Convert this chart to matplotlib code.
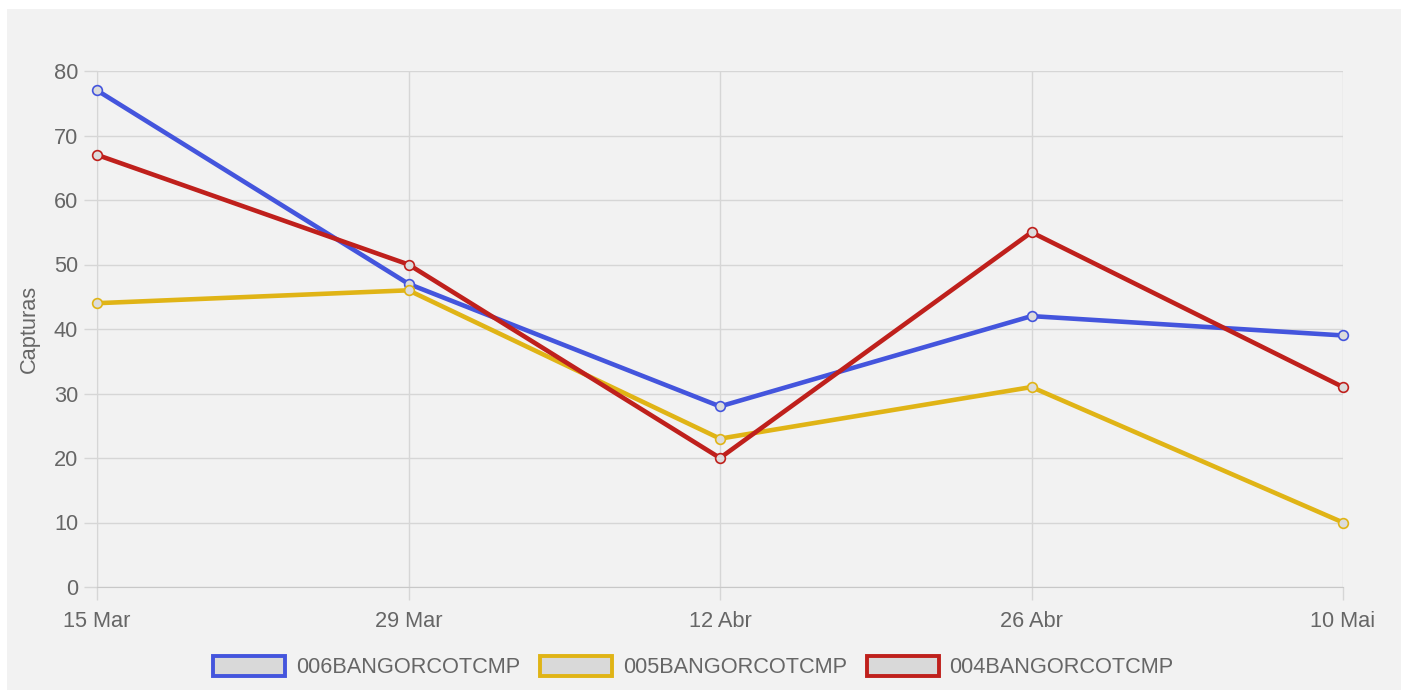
import matplotlib
matplotlib.use("Agg")
import matplotlib.pyplot as plt
from matplotlib.patches import Patch, Rectangle

# ==========================================================
# Data
# ==========================================================

dates = ["15 Mar", "29 Mar", "12 Abr", "26 Abr", "10 Mai"]

series_names = ["006BANGORCOTCMP", "005BANGORCOTCMP", "004BANGORCOTCMP"]

blue_values = [77, 47, 28, 42, 39]
yellow_values = [44, 46, 23, 31, 10]
red_values = [67, 50, 20, 55, 31]

colors = ["#4455dd", "#e0b416", "#bf201c"]

# ==========================================================
# Figure
# ==========================================================

plt.rcParams["font.family"] = ["Liberation Sans", "DejaVu Sans"]

FS = 15.7

W, H = 1401, 690
fig = plt.figure(figsize=(W / 100, H / 100), dpi=100, facecolor="white")

# gray card behind chart
bg = fig.add_axes([7 / W, 0, 1 - 7 / W, 1 - 9 / H], zorder=-5)
bg.axis("off")
bg.add_patch(Rectangle((0, 0), 1, 1, transform=bg.transAxes,
                       facecolor="#f2f2f2", edgecolor="none"))

left, right = 97, 1343
top, bottom = 71, 587
ax = fig.add_axes([left / W, 1 - bottom / H, (right - left) / W, (bottom - top) / H])
ax.set_facecolor("none")

x = list(range(len(dates)))

for vals, color in zip([blue_values, yellow_values, red_values], colors):
    ax.plot(
        x, vals,
        color=color,
        linewidth=3.3,
        marker="o",
        markersize=7,
        markerfacecolor="#dcdcdc",
        markeredgecolor=color,
        markeredgewidth=1.2,
        zorder=3,
        clip_on=False,
    )

ax.set_xlim(0, len(dates) - 1)
ax.set_ylim(0, 80)
ax.set_yticks(range(0, 81, 10))
ax.set_xticks(x)
ax.set_xticklabels(dates)

ax.grid(True, color="#d6d6d6", linewidth=1)
ax.set_axisbelow(True)

for side in ["top", "right"]:
    ax.spines[side].set_visible(False)
ax.spines["left"].set_color("#d6d6d6")
ax.spines["bottom"].set_color("#c8c8c8")

ax.tick_params(axis="both", colors="#d6d6d6", labelcolor="#666666",
               labelsize=FS, length=9.5, width=1)
ax.tick_params(axis="y", pad=4)
ax.tick_params(axis="x", pad=8)

ax.set_ylabel("Capturas", color="#666666", fontsize=FS, labelpad=10)

# ==========================================================
# Legend
# ==========================================================

handles = [
    Patch(facecolor="#d9d9d9", edgecolor=c, linewidth=2.8, label=n)
    for n, c in zip(series_names, colors)
]

fig.legend(
    handles=handles,
    loc="center",
    bbox_to_anchor=(0.495, 1 - 667 / H),
    ncol=3,
    frameon=False,
    fontsize=FS,
    labelcolor="#666666",
    handlelength=3.3,
    handleheight=1.1,
    handletextpad=0.5,
    columnspacing=0.9,
)

fig.savefig("out.png", dpi=100, facecolor="white")
